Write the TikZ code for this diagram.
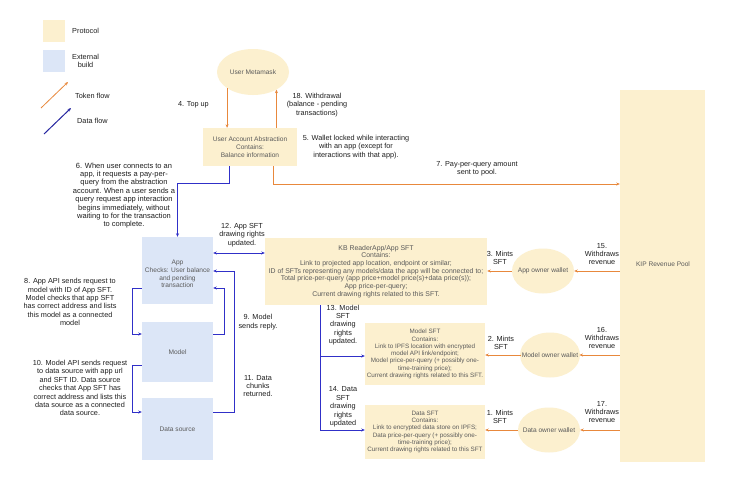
\documentclass[tikz,border=0pt]{standalone}
\usepackage{fontspec}
\setmainfont{Liberation Sans}
\usetikzlibrary{arrows.meta,shapes.geometric}
\definecolor{protfill}{HTML}{FCF0CF}
\definecolor{extfill}{HTML}{DCE6F7}
\definecolor{tokc}{HTML}{E8883C}
\definecolor{datc}{HTML}{3030C8}
\definecolor{boxtxt}{HTML}{5A5A5A}
\definecolor{lbltxt}{HTML}{1E1E1E}
\tikzset{
  x=1pt, y=-1pt,
  protbox/.style={fill=protfill, draw=none, inner sep=0pt},
  extbox/.style={fill=extfill, draw=none, inner sep=0pt},
  wal/.style={ellipse, fill=protfill, draw=none, inner sep=0pt},
  boxtext/.style={text=boxtxt, align=center, font=\fontsize{6.6}{7.7}\selectfont, inner sep=0pt},
  lbl/.style={text=lbltxt, align=center, font=\fontsize{7.3}{8.4}\selectfont, inner sep=0pt},
  tok/.style={draw=tokc, line width=0.8pt, -{Stealth[length=3.5pt,width=3pt]}},
  dat/.style={draw=datc, line width=0.8pt, -{Stealth[length=3.5pt,width=3pt]}},
  datboth/.style={draw=datc, line width=0.8pt, {Stealth[length=3.5pt,width=3pt]}-{Stealth[length=3.5pt,width=3pt]}},
}
\begin{document}
\begin{tikzpicture}
\useasboundingbox (0,0) rectangle (750,490);
\fill[white] (0,0) rectangle (750,490);

% legend
\node[protbox, minimum width=22pt, minimum height=22pt] (lgp) at (54,31) {};
\node[lbl, anchor=west] (lgpt) at (72,31) {Protocol};
\node[extbox, minimum width=22pt, minimum height=22pt] (lge) at (54,61) {};
\node[lbl, anchor=west] (lget) at (72,61) {External\\build};
\coordinate (lgt1) at (41,108); \coordinate (lgt2) at (68,82);
\draw[tok] (lgt1) -- (lgt2);
\node[lbl, anchor=west] (lgtt) at (75,96) {Token flow};
\coordinate (lgd1) at (44,134); \coordinate (lgd2) at (71,108);
\draw[dat, draw=datc!80!black, line width=1pt] (lgd1) -- (lgd2);
\node[lbl, anchor=west] (lgdt) at (77,121) {Data flow};

% user side
\node[wal, minimum width=72pt, minimum height=46pt] (meta) at (253,72) {};
\node[boxtext] (metat) at (meta) {User Metamask};
\node[protbox, minimum width=94pt, minimum height=38pt] (uaa) at (250,147) {};
\node[boxtext] (uaat) at (uaa) {User Account Abstraction\\Contains:\\Balance information};

\draw[tok] (meta.212) -- (meta.212 |- uaa.north);
\draw[tok] (meta.323 |- uaa.north) -- (meta.323);
\node[lbl, anchor=east] (l4) at (209,105) {4. Top up};
\node[lbl] (l18) at (317,105) {18. Withdrawal\\(balance - pending\\transactions)};
\node[lbl] (l5) at (356,147) {5. Wallet locked while interacting\\with an app (except for\\interactions with that app).};

% pool
\node[protbox, minimum width=85pt, minimum height=372pt] (pool) at (662.5,276) {};
\node[boxtext] (poolt) at (663,264) {KIP Revenue Pool};

\coordinate (c7) at (273,184);
\draw[tok] (c7 |- uaa.south) -- (c7) -- (c7 -| pool.west);
\node[lbl] (l7) at (477,169) {7. Pay-per-query amount\\sent to pool.};

% external boxes
\node[extbox, minimum width=71pt, minimum height=67pt] (app) at (177.5,270.5) {};
\node[boxtext] (appt) at (177.5,274) {App\\Checks: User balance\\and pending\\transaction};
\node[extbox, minimum width=71pt, minimum height=60pt] (model) at (177.5,352) {};
\node[boxtext] (modelt) at (model) {Model};
\node[extbox, minimum width=71pt, minimum height=62pt] (ds) at (177.5,429) {};
\node[boxtext] (dst) at (ds) {Data source};

\coordinate (c6) at (229,183);
\draw[dat] (c6 |- uaa.south) -- (c6) -| (app.north);
\node[lbl, font=\fontsize{7.5}{8.4}\selectfont] (l6) at (124,195.5) {6. When user connects to an\\app, it requests a pay-per-\\query from the abstraction\\account. When a user sends a\\query request app interaction\\begins immediately, without\\waiting to for the transaction\\to complete.};

% protocol SFT boxes
\node[protbox, minimum width=222pt, minimum height=67pt] (kb) at (376,271.5) {};
\node[boxtext, font=\fontsize{6.9}{7.7}\selectfont] (kbt) at (kb) {KB ReaderApp/App SFT\\Contains:\\Link to projected app location, endpoint or similar;\\ID of SFTs representing any models/data the app will be connected to;\\Total price-per-query (app price+model price(s)+data price(s));\\App price-per-query;\\Current drawing rights related to this SFT.};
\node[protbox, minimum width=120pt, minimum height=62pt] (msft) at (425,354) {};
\node[boxtext, font=\fontsize{6.3}{7.3}\selectfont] (msftt) at (msft) {Model SFT\\Contains:\\Link to IPFS location with encrypted\\model API link/endpoint;\\Model price-per-query (+ possibly one-\\time-training price);\\Current drawing rights related to this SFT.};
\node[protbox, minimum width=120pt, minimum height=54pt] (dsft) at (425,432) {};
\node[boxtext, font=\fontsize{6.3}{7.3}\selectfont] (dsftt) at (dsft) {Data SFT\\Contains:\\Link to encrypted data store on IPFS;\\Data price-per-query (+ possibly one-\\time-training price);\\Current drawing rights related to this SFT};

\coordinate (c12) at (0,253);
\draw[datboth] (app.east |- c12) -- (kb.west |- c12);
\node[lbl] (l12) at (242,235) {12. App SFT\\drawing rights\\updated.};

\coordinate (c8a) at (132,288); \coordinate (c8b) at (132,334);
\draw[dat] (app.west |- c8a) -- (c8a) -- (c8b) -- (model.west |- c8b);
\node[lbl] (l8) at (70,302) {8. App API sends request to\\model with ID of App SFT.\\Model checks that app SFT\\has correct address and lists\\this model as a connected\\model};

\coordinate (c10a) at (132,365); \coordinate (c10b) at (132,412);
\draw[dat] (model.west |- c10a) -- (c10a) -- (c10b) -- (ds.west |- c10b);
\node[lbl] (l10) at (80,388) {10. Model API sends request\\to data source with app url\\and SFT ID. Data source\\checks that App SFT has\\correct address and lists this\\data source as a connected\\data source.};

\coordinate (c9a) at (224,334); \coordinate (c9b) at (224,288);
\draw[dat] (model.east |- c9a) -- (c9a) -- (c9b) -- (app.east |- c9b);
\node[lbl] (l9) at (258,322) {9. Model\\sends reply.};

\coordinate (c11a) at (234,412); \coordinate (c11b) at (234,271);
\draw[dat] (ds.east |- c11a) -- (c11a) -- (c11b) -- (app.east |- c11b);
\node[lbl] (l11) at (258,386) {11. Data\\chunks\\returned.};

\coordinate (c13) at (320,356); \coordinate (c14) at (320,430);
\draw[dat] (c13 |- kb.south) -- (c13) -- (c13 -| msft.west);
\draw[dat] (c13) -- (c14) -- (c14 -| dsft.west);
\node[lbl] (l13) at (343,325) {13. Model\\SFT\\drawing\\rights\\updated.};
\node[lbl] (l14) at (343,407) {14. Data\\SFT\\drawing\\rights\\updated};

% wallets
\node[wal, minimum width=62pt, minimum height=45pt] (aw) at (543,271) {};
\node[boxtext] (awt) at (aw) {App owner wallet};
\node[wal, minimum width=60pt, minimum height=45pt] (mw) at (550,355) {};
\node[boxtext] (mwt) at (mw) {Model owner wallet};
\node[wal, minimum width=62pt, minimum height=45pt] (dw) at (549,430) {};
\node[boxtext] (dwt) at (dw) {Data owner wallet};

\draw[tok] (aw -| pool.west) -- (aw.east);
\draw[tok] (mw -| pool.west) -- ([xshift=1pt]mwt.east);
\draw[tok] (dw -| pool.west) -- (dw.east);
\node[lbl] (l15) at (602,254) {15.\\Withdraws\\revenue};
\node[lbl] (l16) at (602,338) {16.\\Withdraws\\revenue};
\node[lbl] (l17) at (602,412) {17.\\Withdraws\\revenue};

\draw[tok] (aw.west) -- (aw.west -| kb.east);
\draw[tok] ([xshift=-1pt]mwt.west) -- (mwt.west -| msft.east);
\draw[tok] (dw.west) -- (dw.west -| dsft.east);
\node[lbl] (l3) at (500,258) {3. Mints\\SFT};
\node[lbl] (l2) at (501,343) {2. Mints\\SFT};
\node[lbl] (l1) at (500,417) {1. Mints\\SFT};
\end{tikzpicture}
\end{document}
